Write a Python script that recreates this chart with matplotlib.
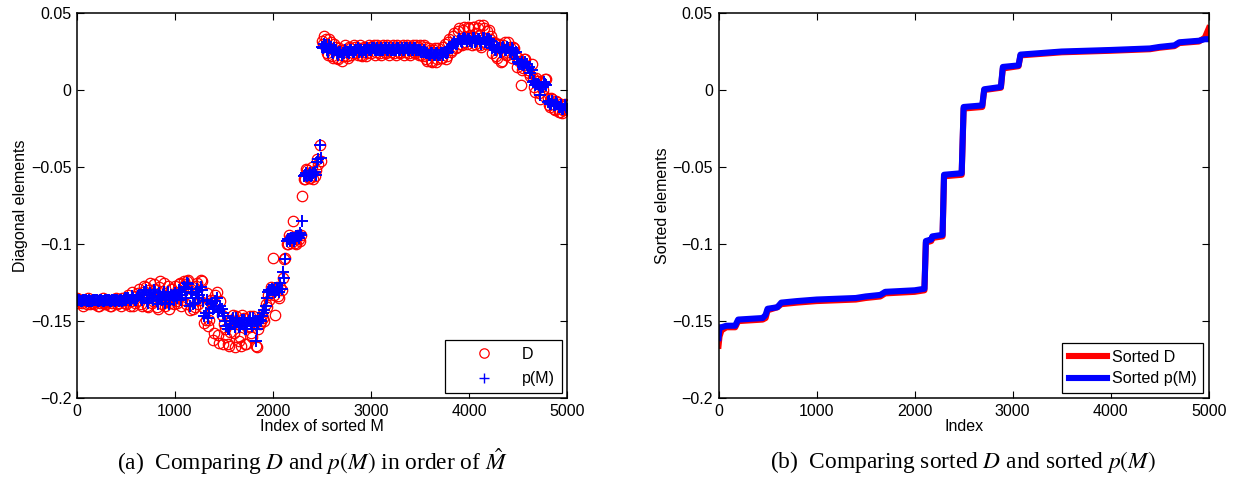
import numpy as np
import matplotlib
matplotlib.use('Agg')
import matplotlib.pyplot as plt

plt.rcParams['font.family'] = ['Liberation Sans', 'DejaVu Sans']
plt.rcParams['mathtext.fontset'] = 'stix'

# left panel: diagonal elements in order of sorted M (values in 1e-3)
# read at every 25th index ...
idx = np.arange(0, 5001, 25)
D_vals = [
    -135, -137, -138, -136, -139, -137, -138, -139, -136, -140, -137, -138, -139, -136, -140, -137, -135, -138, -140, -136,
    -139, -133, -137, -140, -134, -132, -139, -131, -128, -141, -125, -137, -129, -142, -124, -135, -140, -127, -138, -133,
    -127, -138, -125, -136, -126, -124, -143, -128, -141, -125, -136, -124, -151, -132, -149, -141, -158, -131, -164, -146,
    -152, -160, -166, -149, -158, -147, -163, -166, -148, -165, -153, -158, -147, -166, -155, -150, -148, -139, -133, -128,
    -109, -146, -134, -128, -122, -109, -100, -96, -85, -99, -94, -98, -69, -58, -52, -57, -50, -56, -45, -36,
    32, 35, 24, 33, 22, 30, 21, 27, 19, 26, 22, 28, 23, 29, 24, 27, 23, 28, 22, 29,
    24, 29, 25, 28, 23, 29, 24, 28, 25, 29, 23, 28, 24, 29, 25, 28, 23, 29, 24, 28,
    29, 22, 28, 19, 26, 18, 27, 20, 25, 21, 30, 22, 33, 26, 37, 28, 40, 29, 41, 30,
    40, 29, 41, 37, 42, 28, 40, 30, 39, 35, 31, 22, 30, 18, 29, 23, 31, 24, 28, 22,
    21, 3, 14, 20, 13, 9, 8, -1, 6, -6, 0, 7, -5, -11, -6, -13, -8, -14, -15, -9, -13,
]
p_vals = [
    -136, -136, -137, -136, -137, -136, -137, -136, -136, -137, -136, -137, -136, -136, -137, -136, -136, -137, -136, -136,
    -136, -135, -136, -135, -136, -134, -135, -133, -130, -138, -132, -136, -131, -139, -134, -133, -138, -131, -136, -134,
    -132, -135, -131, -133, -129, -125, -140, -131, -138, -129, -133, -130, -147, -136, -145, -138, -141, -135, -143, -142,
    -147, -153, -155, -150, -152, -148, -154, -151, -149, -155, -150, -152, -148, -163, -151, -150, -145, -140, -131, -130,
    -130, -131, -129, -125, -118, -110, -97, -98, -96, -97, -95, -93, -85, -55, -56, -54, -55, -53, -47, -36,
    28, 30, 26, 29, 25, 27, 24, 25, 23, 24, 25, 24, 26, 25, 26, 25, 26, 26, 25, 26,
    26, 27, 26, 26, 27, 26, 27, 26, 26, 27, 26, 27, 26, 26, 27, 26, 27, 26, 27, 26,
    26, 25, 25, 24, 23, 24, 23, 24, 23, 24, 25, 24, 27, 29, 31, 30, 33, 31, 34, 32,
    33, 31, 34, 32, 33, 30, 34, 31, 33, 32, 28, 26, 27, 25, 28, 26, 27, 25, 26, 25,
    18, 17, 16, 18, 14, 11, 5, 3, 4, -3, 2, 4, -8, -9, -7, -10, -9, -11, -12, -10, -12,
]
# ... and in between (index 12.5 + 25k)
idx_mid = np.arange(12.5, 5000, 25)
D_mid = [
    -138, -136, -140, -137, -135, -139, -138, -136, -140, -138, -135, -139, -137, -140, -138, -136, -139, -137, -135, -138,
    -136, -140, -131, -138, -137, -129, -140, -127, -140, -130, -138, -126, -141, -128, -139, -125, -137, -142, -129, -139,
    -137, -126, -140, -124, -139, -123, -129, -142, -127, -139, -123, -141, -149, -153, -136, -162, -133, -159, -137, -165,
    -155, -165, -157, -146, -167, -152, -160, -146, -165, -154, -147, -160, -151, -167, -152, -146, -150, -141, -136, -131,
    -133, -128, -135, -130, -110, -100, -94, -99, -96, -100, -97, -94, -58, -51, -57, -53, -58, -52, -48, -46,
    30, 33, 23, 31, 21, 28, 20, 26, 22, 29, 21, 27, 24, 28, 23, 29, 22, 27, 24, 28,
    28, 23, 29, 24, 28, 25, 29, 23, 28, 24, 29, 25, 28, 23, 29, 24, 28, 25, 29, 23,
    23, 29, 20, 27, 19, 26, 18, 27, 21, 28, 20, 31, 25, 35, 27, 38, 30, 39, 31, 41,
    36, 41, 30, 40, 29, 42, 31, 38, 33, 24, 30, 21, 27, 19, 31, 23, 28, 21, 27, 15,
    19, 13, 20, 15, 11, 17, 2, 8, -2, 5, -4, 7, -10, -5, -12, -7, -14, -9, -13, -10,
]
p_mid = [
    -136, -137, -136, -136, -137, -137, -136, -136, -137, -136, -137, -136, -136, -137, -136, -137, -136, -136, -137, -135,
    -135, -136, -134, -136, -135, -133, -136, -131, -137, -133, -135, -130, -137, -132, -136, -131, -135, -139, -133, -136,
    -134, -130, -136, -128, -135, -126, -132, -139, -131, -135, -128, -137, -145, -148, -139, -142, -137, -144, -140, -145,
    -150, -155, -152, -148, -154, -150, -153, -149, -155, -151, -148, -153, -150, -155, -149, -147, -143, -135, -130, -129,
    -130, -130, -131, -129, -122, -98, -97, -96, -98, -95, -96, -94, -56, -54, -55, -56, -54, -55, -45, -44,
    27, 29, 25, 28, 24, 26, 23, 25, 24, 26, 25, 26, 25, 26, 27, 26, 25, 26, 27, 26,
    27, 26, 27, 26, 26, 27, 26, 27, 26, 26, 27, 26, 27, 26, 27, 26, 26, 27, 26, 26,
    25, 26, 24, 23, 24, 23, 24, 23, 24, 23, 24, 25, 28, 30, 30, 32, 32, 33, 33, 33,
    32, 34, 31, 33, 32, 34, 31, 33, 29, 27, 26, 28, 25, 27, 26, 28, 25, 27, 24, 20,
    17, 18, 16, 17, 15, 13, 6, 4, 3, 2, 5, 3, -7, -9, -10, -8, -11, -10, -12, -11,
]
x_all = np.concatenate([idx, idx_mid])
D = np.concatenate([D_vals, D_mid]) / 1000.0
pM = np.concatenate([p_vals, p_mid]) / 1000.0

# right panel: sorted values (1e-3)
sorted_idx = [0, 10, 30, 80, 170, 200, 450, 480, 500, 600, 640, 800, 1000, 1400, 1500, 1650, 1700, 2000,
              2100, 2115, 2170, 2180, 2285, 2300, 2480, 2500, 2690, 2710, 2880, 2900, 3060, 3080, 3500,
              4000, 4400, 4500, 4650, 4700, 4900, 4960, 5000]
sorted_p = [-161, -154, -154, -153, -153, -149, -148, -146, -142, -141, -138, -137, -136, -135, -134, -133, -131, -130,
            -129, -98, -97, -95, -94, -55, -54, -11, -10, 0.5, 2, 15, 16, 23, 25,
            26, 27, 28, 29, 31, 32, 33, 33]
sorted_D = [-166, -160, -156, -154, -154, -150, -149, -148, -143, -141, -139, -138, -137, -136, -135, -134, -132, -131,
            -130, -99, -98, -96, -95, -56, -55, -12, -11, 0, 1.5, 14, 15.5, 22.5, 24.5,
            25.5, 26.5, 27.5, 28.5, 30.5, 31.5, 34, 40]

xticks = [0, 1000, 2000, 3000, 4000, 5000]
yticks = [-0.2, -0.15, -0.1, -0.05, 0, 0.05]
ytick_labels = ['\u22120.2', '\u22120.15', '\u22120.1', '\u22120.05', '0', '0.05']

fig = plt.figure(figsize=(12.41, 4.82), dpi=100)
ax1 = fig.add_axes([0.062, 0.174, 0.395, 0.799])
ax2 = fig.add_axes([0.579, 0.174, 0.395, 0.799])

ax1.plot(x_all, D, 'o', mfc='none', mec='red', ms=7.5, mew=0.9, label='D')
ax1.plot(x_all, pM, '+', color='blue', ms=8.5, mew=1.4, label='p(M)')

ax2.plot(np.array(sorted_idx), np.array(sorted_D) / 1000.0, '-', color='red', lw=4.4, label='Sorted D')
ax2.plot(np.array(sorted_idx), np.array(sorted_p) / 1000.0, '-', color='blue', lw=4.4, label='Sorted p(M)')

for ax in (ax1, ax2):
    ax.set_xlim(0, 5000)
    ax.set_ylim(-0.2, 0.05)
    ax.set_xticks(xticks)
    ax.set_yticks(yticks)
    ax.set_yticklabels(ytick_labels)
    ax.tick_params(direction='in', top=True, right=True, length=5, width=0.8, labelsize=11.5, pad=4)
    for s in ax.spines.values():
        s.set_linewidth(1.1)

ax1.set_xlabel('Index of sorted M', fontsize=11.5, labelpad=0)
ax1.set_ylabel('Diagonal elements', fontsize=11.5, labelpad=2)
ax2.set_xlabel('Index', fontsize=11.5, labelpad=0)
ax2.set_ylabel('Sorted elements', fontsize=11.5, labelpad=2)

leg1 = ax1.legend(loc='lower right', numpoints=1, handlelength=4, fontsize=11.5, fancybox=False,
                  edgecolor='black', framealpha=1, borderaxespad=0.35, borderpad=0.4, labelspacing=0.6,
                  handletextpad=0.4, markerscale=0.9)
leg1.get_frame().set_linewidth(0.9)
leg1.legend_handles[1].set_markeredgewidth(1.0)
leg2 = ax2.legend(loc='lower right', handlelength=2.4, fontsize=11.5, fancybox=False,
                  edgecolor='black', framealpha=1, borderaxespad=0.35, borderpad=0.4, labelspacing=0.4,
                  handletextpad=0.3)
leg2.get_frame().set_linewidth(0.9)

fig.text(0.252, 0.042, r'(a)  Comparing $D$ and $p(M)$ in order of $\hat{M}$',
         ha='center', va='center', fontsize=16.8, family='Liberation Serif')
fig.text(0.776, 0.042, r'(b)  Comparing sorted $D$ and sorted $p(M)$',
         ha='center', va='center', fontsize=16.8, family='Liberation Serif')

fig.savefig('out.png', dpi=100)
